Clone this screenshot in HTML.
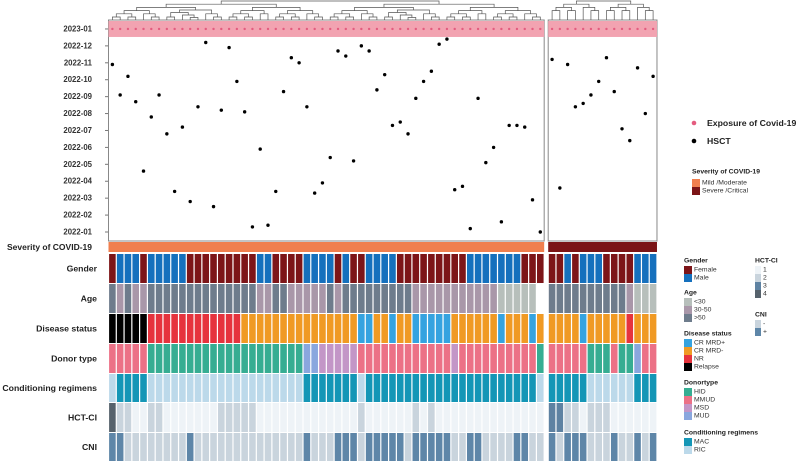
<!DOCTYPE html>
<html><head><meta charset="utf-8"><style>
html,body{margin:0;padding:0;background:#fff;}
svg{display:block;font-family:"Liberation Sans",sans-serif;}
</style></head><body>
<svg id="chart" width="800" height="462" viewBox="0 0 800 462" xmlns="http://www.w3.org/2000/svg"></svg>
<script>
// ---- data ----
const yTicks = ["2022-01","2022-02","2022-03","2022-04","2022-05","2022-06","2022-07","2022-08","2022-09","2022-10","2022-11","2022-12","2023-01"];
const exposureMonth = 12;
// HSCT date, months since 2022-01
const hsctLeft = [9.9,8.1,9.2,7.7,3.6,6.8,8.1,5.8,2.4,6.2,1.8,7.4,11.2,1.5,7.2,10.9,8.9,7.1,0.3,4.9,0.4,2.4,8.3,10.3,10.0,7.4,2.3,2.9,4.4,10.7,10.4,4.2,11.0,10.7,8.4,9.3,6.3,6.5,5.8,7.9,8.9,9.5,11.1,11.4,2.5,2.7,0.2,7.9,4.1,5.0,0.6,6.3,6.3,6.2,1.9,0.0];
const hsctRight = [10.2,2.6,9.9,7.4,7.6,8.1,8.9,10.3,8.3,6.1,5.4,9.7,7.0,9.2];
const severityLeft = "M", severityRight = "S";
const genderLeft = "FMMMFMMMMMFFFFFFFFFMMFFFFMMMMFMFFMMMMFFFFFFFFFMMMMMMMFFF";
const genderRight = "FFMFMMMFFFFMMM";
const ageLeft = "SMSMMSSSSSSSSSSSSSSMMSSMMMMMSMSSSSSSSSSMMMMMMMMMMMLLLLL";
const ageRight = "SSSSSSSSSSMLLL";
const diseaseLeft = "XXXXXNNNNNNNNNNNNOOOOOOOOOOOOOOOBBOOBOOBBBBBOOOOOOBOOOBO";
const diseaseRight = "OOOOBOOOOONOOO";
const donorLeft = "PPPPPHHHHHHHHHHHHHHHHHHHHUUSSSSSPPPPPPPPPPPPSPPPPPPPPPPH";
const donorRight = "PPPPPHHHPHHUPP";
const condLeft = "RMMMMRRRRRRRRRRRRRRRRRRRRMMMMMMMRMMMMMMMMMMMMMMMMMMMMMMR";
const condRight = "MMMMMRRRRRRMMM";
const hctLeft = "42211221111111222221111111111111211111121211111111111111";
const hctRight = "33221222111111";
const cniLeft = "++--------+--------------+---+++-+++++-+++++--++----++--";
const cniRight = "+-+++---+--+-+";

// ---- colours ----
const C = {
 sev:{M:"#f07f4e",S:"#7b1416"},
 gender:{F:"#7d1518",M:"#1570bd"},
 age:{L:"#b7bfbb",M:"#a997a9",S:"#6e7c8c"},
 disease:{B:"#35a3e0",O:"#f09a24",N:"#e6333d",X:"#000000"},
 donor:{H:"#36ad92",P:"#ec7186",S:"#c396c7",U:"#8aa7de"},
 cond:{M:"#1496b6",R:"#bcd9ea"},
 hct:{"1":"#eef3f7","2":"#c9d4dd","3":"#5e82a2","4":"#56626c"},
 cni:{"-":"#c9d4dd","+":"#5e86a8"}
};
const svg=document.getElementById('chart');
const NS="http://www.w3.org/2000/svg";
function mk(tag,attrs,parent){const e=document.createElementNS(NS,tag);for(const k in attrs)e.setAttribute(k,attrs[k]);(parent||svg).appendChild(e);return e;}
function txt(s,x,y,size,weight,anchor,fill){const t=mk('text',{x:x,y:y,'font-size':size,'font-weight':weight||'normal','text-anchor':anchor||'start',fill:fill||'#222','dominant-baseline':'central'});t.textContent=s;return t;}

// ---- scales ----
const L0=108.5, LW=7.78, R0=548.2, RW=7.77;
const nL=hsctLeft.length, nR=hsctRight.length;
function xL(i){return L0+LW*i;}
function xR(i){return R0+RW*i;}
function yM(m){return 232-m*16.92;}

// ---- panel frames ----
const pl=mk('rect',{x:L0,y:20,width:LW*nL,height:221,fill:'#fff',stroke:'#888','stroke-width':1});

const pr=mk('rect',{x:R0,y:20,width:RW*nR,height:221,fill:'#fff',stroke:'#888','stroke-width':1});

// exposure bands
[[L0,LW*nL],[R0,RW*nR]].forEach(function(p){const b=mk('rect',{x:p[0],y:yM(exposureMonth)-8,width:p[1],height:16,fill:'#f2a3b1'});
});

// y axis
yTicks.forEach(function(t,i){
 mk('line',{x1:105,x2:108,y1:yM(i),y2:yM(i),stroke:'#777','stroke-width':1});
 const l=txt(t,92,yM(i),7.8,'bold','end','#333');
 
});

// dots
function dots(arr,xf,w){
 arr.forEach(function(v,i){
  const cx=xf(i)+w/2;
  const e=mk('circle',{cx:cx,cy:yM(exposureMonth),r:1.2,fill:'#e45c7f'});
  
  const h=mk('circle',{cx:cx,cy:yM(v),r:1.7,fill:'#000'});
  
 });
}
dots(hsctLeft,xL,LW);dots(hsctRight,xR,RW);

// dendrograms
function dendro(lo,hi,xf,w,depth){
 if(hi-lo===1)return {x:xf(lo)+w/2,y:20};
 const mid=Math.floor((lo+hi)/2)+((depth%2)&&hi-lo>3?1:0);
 const a=dendro(lo,mid,xf,w,depth+1),b=dendro(mid,hi,xf,w,depth+1);
 const y=Math.min(1+depth*3.2,Math.min(a.y,b.y)-2.5);
 const p=mk('path',{d:'M'+a.x+','+a.y+'V'+y+'H'+b.x+'V'+b.y,fill:'none',stroke:'#555','stroke-width':0.7});
 
 return {x:(a.x+b.x)/2,y:y};
}
dendro(0,nL,xL,LW,0);dendro(0,nR,xR,RW,0);

// annotation rows
function row(name,label,y,h,left,right,cmap){
 const lb=txt(label,97,y+h/2,8.7,'bold','end','#222');
 
 for(let i=0;i<left.length;i++){const r=mk('rect',{x:xL(i)+0.6,y:y,width:LW-1.2,height:h,fill:cmap[left[i]]});
  }
 for(let i=0;i<right.length;i++){const r=mk('rect',{x:xR(i)+0.6,y:y,width:RW-1.2,height:h,fill:cmap[right[i]]});
  }
}
// severity bar
const sl=txt("Severity of COVID-19",92,247,8.5,'bold','end','#222');

const s1=mk('rect',{x:L0,y:242,width:LW*nL,height:10,fill:C.sev[severityLeft]});

const s2=mk('rect',{x:R0,y:242,width:RW*nR,height:10,fill:C.sev[severityRight]});


row('gender','Gender',254,29,genderLeft,genderRight,C.gender);
row('age','Age',284,29,ageLeft,ageRight,C.age);
row('disease-status','Disease status',314,29,diseaseLeft,diseaseRight,C.disease);
row('donor-type','Donor type',344,29,donorLeft,donorRight,C.donor);
row('conditioning','Conditioning regimens',374,28,condLeft,condRight,C.cond);
row('hct-ci','HCT-CI',403,29,hctLeft,hctRight,C.hct);
row('cni','CNI',433,28,cniLeft,cniRight,C.cni);

// top legend
let e=mk('circle',{cx:694,cy:123,r:2.3,fill:'#e45c7f'});
e=txt("Exposure of Covid-19",707,123,8.7,'bold');
e=mk('circle',{cx:694,cy:141,r:2.3,fill:'#000'});
e=txt("HSCT",707,141,8.7,'bold');
e=txt("Severity of COVID-19",692,172,6.8,'bold');
[["Mild /Moderate",C.sev.M,183],["Severe /Critical",C.sev.S,191]].forEach(function(it){
 const r=mk('rect',{x:692,y:it[2]-4,width:8,height:8,fill:it[1]});
 const t=txt(it[0],702,it[2],6.8,'normal','start','#333');
});

// bottom legends
function legend(title,x,y,items,sw,gap){
 const t=txt(title,x,y,6.8,'bold');
 items.forEach(function(it,i){
  const yy=y+9+i*gap;
  const r=mk('rect',{x:x,y:yy-gap/2,width:sw,height:gap,fill:it[1]});
  const l=txt(it[0],x+sw+2,yy,6.8,'normal','start','#333');
 });
}
legend("Gender",684,261,[["Female",C.gender.F],["Male",C.gender.M]],8,8);
legend("Age",684,293,[["<30",C.age.L],["30-50",C.age.M],[">50",C.age.S]],8,8);
legend("Disease status",684,334,[["CR MRD+",C.disease.B],["CR MRD-",C.disease.O],["NR",C.disease.N],["Relapse",C.disease.X]],8,8);
legend("Donortype",684,383,[["HID",C.donor.H],["MMUD",C.donor.P],["MSD",C.donor.S],["MUD",C.donor.U]],8,8);
legend("Conditioning regimens",684,433,[["MAC",C.cond.M],["RIC",C.cond.R]],8,8);
legend("HCT-CI",755,261,[["1",C.hct["1"]],["2",C.hct["2"]],["3",C.hct["3"]],["4",C.hct["4"]]],6,8);
legend("CNI",755,315,[["-",C.cni["-"]],["+",C.cni["+"]]],6,8);
</script>
</body></html>
